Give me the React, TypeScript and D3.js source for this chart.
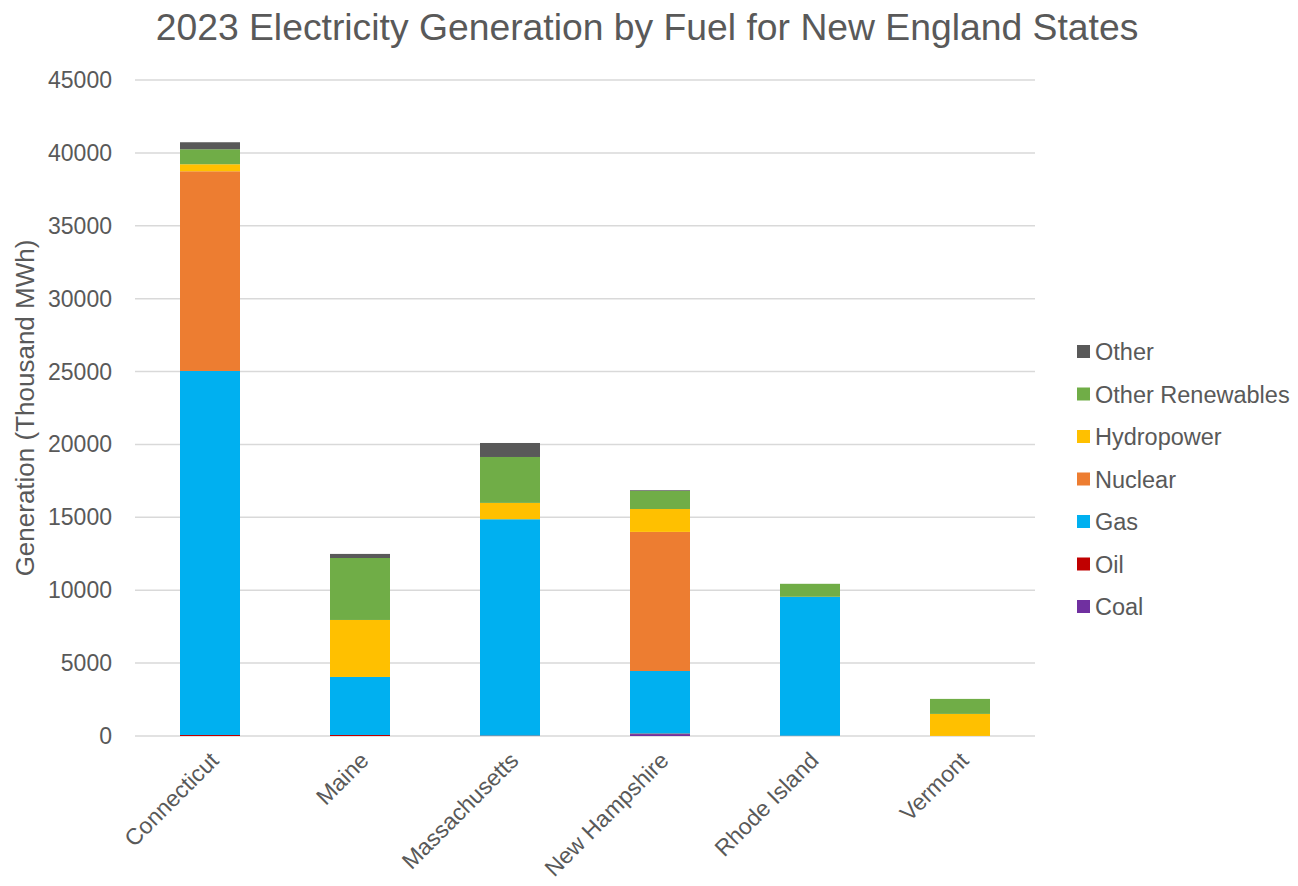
import { useMemo } from "react"
import * as d3 from "d3"

// data (thousand MWh)
const states = ["Connecticut", "Maine", "Massachusetts", "New Hampshire", "Rhode Island", "Vermont"]
const fuels = ["Coal", "Oil", "Gas", "Nuclear", "Hydropower", "Other Renewables", "Other"]
const coal = [0, 0, 0, 130, 0, 0]
const oil = [70, 70, 30, 40, 20, 5]
const gas = [24970, 3980, 14840, 4290, 9520, 0]
const nuclear = [13700, 0, 0, 9540, 0, 0]
const hydro = [480, 3910, 1120, 1570, 10, 1510]
const otherRenew = [1030, 4250, 3150, 1240, 890, 1030]
const other = [480, 280, 960, 50, 0, 0]
const yTicks = [0, 5000, 10000, 15000, 20000, 25000, 30000, 35000, 40000, 45000]
const colors = ["#7030a0", "#c00000", "#00b0f0", "#ed7d31", "#ffc000", "#70ad47", "#595959"]

const W = 1298
const H = 886
const font = "'Liberation Sans', Arial, sans-serif"
const textCol = "#595959"

export default function App() {
  const x = d3.scaleBand().domain(states).range([135, 1035]).paddingInner(0.6).paddingOuter(0.3)
  const y = d3.scaleLinear().domain([0, 45000]).range([736, 80])

  const series = useMemo(() => {
    const seriesVals = [coal, oil, gas, nuclear, hydro, otherRenew, other]
    const rows = states.map((s, i) => {
      const r: Record<string, any> = { state: s }
      fuels.forEach((f, k) => (r[f] = seriesVals[k][i]))
      return r
    })
    return d3.stack<any>().keys(fuels)(rows)
  }, [])

  const legendFuels = fuels.slice().reverse()

  return (
    <svg width={W} height={H} style={{ position: "absolute", left: 0, top: 0, background: "#fff" }}>
      <text x={647} y={40} textAnchor="middle" fontFamily={font} fontSize={37.3} fill={textCol}>
        2023 Electricity Generation by Fuel for New England States
      </text>
      {yTicks.map((t) => (
        <g key={t}>
          <line x1={135} x2={1035} y1={y(t)} y2={y(t)} stroke="#d9d9d9" strokeWidth={1.5} />
          <text x={112} y={y(t) + 8} textAnchor="end" fontFamily={font} fontSize={23} fill={textCol}>
            {t}
          </text>
        </g>
      ))}
      <text
        transform={`translate(34,${408}) rotate(-90)`}
        textAnchor="middle"
        fontFamily={font}
        fontSize={26}
        fill={textCol}
      >
        Generation (Thousand MWh)
      </text>
      {series.map((s, k) => (
        <g key={s.key} fill={colors[k]}>
          {s.map((d, i) => {
            const h = y(d[0]) - y(d[1])
            if (h <= 0) return null
            return <rect key={i} x={x(states[i])} y={y(d[1])} width={x.bandwidth()} height={h} />
          })}
        </g>
      ))}
      {states.map((s) => {
        const cx = (x(s) as number) + x.bandwidth() / 2
        return (
          <text
            key={s}
            transform={`translate(${cx + 10},${762}) rotate(-45)`}
            textAnchor="end"
            fontFamily={font}
            fontSize={23}
            fill={textCol}
          >
            {s}
          </text>
        )
      })}
      {legendFuels.map((f, i) => {
        const k = fuels.indexOf(f)
        const ly = 352 + i * 42.5
        return (
          <g key={f}>
            <rect x={1077} y={ly - 7} width={13} height={13} fill={colors[k]} />
            <text x={1095} y={ly + 8} fontFamily={font} fontSize={23.5} fill={textCol}>
              {f}
            </text>
          </g>
        )
      })}
    </svg>
  )
}
